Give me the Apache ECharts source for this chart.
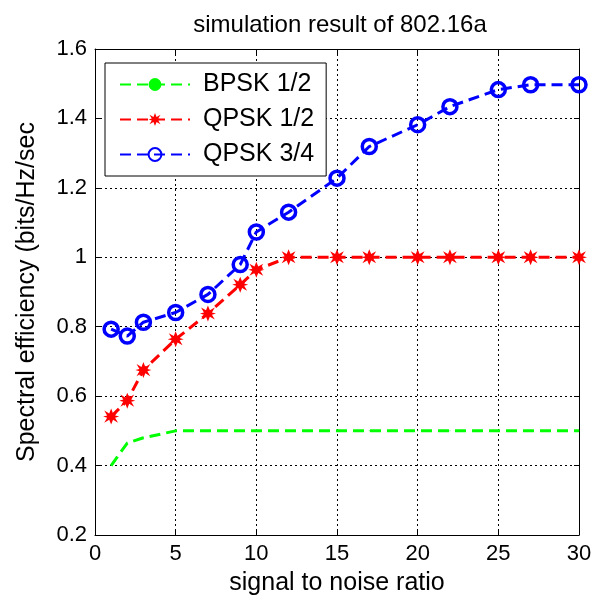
<!DOCTYPE html>
<html><head><meta charset="utf-8">
<script src="https://cdn.jsdelivr.net/npm/echarts@6/dist/echarts.min.js"></script>
<style>html,body{margin:0;padding:0;background:#fff}#c{width:602px;height:601px}</style>
</head><body><div id="c"></div>
<script>
const snr = [1, 2, 3, 5, 7, 9, 10, 12, 15, 17, 20, 22, 25, 27, 30];
const bpsk12 = [0.40, 0.465, 0.48, 0.50, 0.50, 0.50, 0.50, 0.50, 0.50, 0.50, 0.50, 0.50, 0.50, 0.50, 0.50];
const qpsk12 = [0.541, 0.587, 0.675, 0.764, 0.838, 0.921, 0.964, 1.0, 1.0, 1.0, 1.0, 1.0, 1.0, 1.0, 1.0];
const qpsk34 = [0.793, 0.773, 0.813, 0.841, 0.893, 0.979, 1.073, 1.130, 1.228, 1.319, 1.382, 1.434, 1.483, 1.497, 1.497];
const yTicks = [0.2, 0.4, 0.6, 0.8, 1, 1.2, 1.4, 1.6];
const xTicks = [0, 5, 10, 15, 20, 25, 30];
const seriesNames = ['BPSK 1/2', 'QPSK 1/2', 'QPSK 3/4'];

const font = 'Liberation Sans, Arial, sans-serif';
const star = 'path://M5,0 L6.2,3 L9.3,1.2 L7.5,4.3 L10,5 L7.5,5.7 L9.3,8.8 L6.2,7 L5,10 L3.8,7 L0.7,8.8 L2.5,5.7 L0,5 L2.5,4.3 L0.7,1.2 L3.8,3 Z';
const pair = (ys) => snr.map((x, i) => [x, ys[i]]);
const chart = echarts.init(document.getElementById('c'));
const gridLine = {show: true, lineStyle: {color: '#000', type: [2, 3], width: 1}};
chart.setOption({
  animation: false,
  backgroundColor: '#fff',
  title: {text: 'simulation result of 802.16a', left: 335, textAlign: 'center', top: 8,
    textStyle: {fontFamily: font, fontSize: 24, fontWeight: 'normal', color: '#000'}},
  grid: {left: 95, right: 23, top: 49, bottom: 63},
  legend: {
    left: 105, top: 63, orient: 'vertical', itemWidth: 70, itemHeight: 16, itemGap: 8,
    padding: [8, 12, 8, 14], borderColor: '#000', borderWidth: 1, backgroundColor: '#fff',
    textStyle: {fontFamily: font, fontSize: 25, color: '#000', padding: [0, 0, 0, 8], lineHeight: 27},
    data: seriesNames
  },
  xAxis: [{
    type: 'value', min: 0, max: 30, interval: 5, position: 'bottom',
    name: 'signal to noise ratio', nameLocation: 'middle', nameGap: 36,
    nameTextStyle: {fontFamily: font, fontSize: 25, color: '#000'},
    axisLine: {show: true, onZero: false, lineStyle: {color: '#000', width: 1}},
    axisTick: {show: true, inside: true, length: 5, lineStyle: {color: '#000'}},
    axisLabel: {fontFamily: font, fontSize: 22, color: '#000', margin: 8},
    splitLine: gridLine
  }, {
    type: 'value', min: 0, max: 30, interval: 5, position: 'top',
    axisLine: {show: true, onZero: false, lineStyle: {color: '#000', width: 1}},
    axisTick: {show: true, inside: true, length: 5, lineStyle: {color: '#000'}},
    axisLabel: {show: false}, splitLine: {show: false}
  }],
  yAxis: [{
    type: 'value', min: 0.2, max: 1.6, interval: 0.2, position: 'left',
    name: 'Spectral efficiency (bits/Hz/sec', nameLocation: 'middle', nameGap: 55,
    nameTextStyle: {fontFamily: font, fontSize: 25, color: '#000'},
    axisLine: {show: true, onZero: false, lineStyle: {color: '#000', width: 1}},
    axisTick: {show: true, inside: true, length: 5, lineStyle: {color: '#000'}},
    axisLabel: {fontFamily: font, fontSize: 22, color: '#000', margin: 8,
      formatter: (v) => String(parseFloat(v.toFixed(1)))},
    splitLine: gridLine
  }, {
    type: 'value', min: 0.2, max: 1.6, interval: 0.2, position: 'right',
    axisLine: {show: true, onZero: false, lineStyle: {color: '#000', width: 1}},
    axisTick: {show: true, inside: true, length: 5, lineStyle: {color: '#000'}},
    axisLabel: {show: false}, splitLine: {show: false}
  }],
  series: [
    {name: seriesNames[0], type: 'line', data: pair(bpsk12), symbol: 'circle', symbolSize: 1,
      lineStyle: {color: '#00ff00', width: 3, type: [11, 6]}, itemStyle: {color: '#00ff00'}},
    {name: seriesNames[1], type: 'line', data: pair(qpsk12), symbol: star, symbolSize: 16,
      lineStyle: {color: '#ff0000', width: 3, type: [11, 6]}, itemStyle: {color: '#ff0000'}},
    {name: seriesNames[2], type: 'line', data: pair(qpsk34), symbol: 'circle', symbolSize: 14,
      lineStyle: {color: '#0000ff', width: 3, type: [11, 6]},
      itemStyle: {color: 'none', borderColor: '#0000ff', borderWidth: 3.5}}
  ]
});
</script></body></html>
